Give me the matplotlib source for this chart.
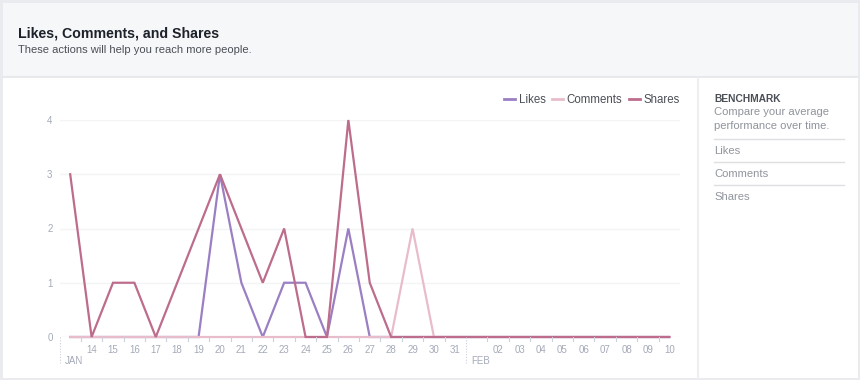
import matplotlib
matplotlib.use('Agg')
import matplotlib.pyplot as plt
from matplotlib.patches import Rectangle
from matplotlib.lines import Line2D
import pandas as pd

plt.rcParams['font.family'] = ['Liberation Sans', 'DejaVu Sans']

# days shown on the chart, Jan 13 .. Feb 10
dates = pd.date_range('2016-01-13', '2016-02-10')

likes = [0, 0, 0, 0, 0, 0, 0, 3, 1, 0, 1, 1, 0, 2, 0, 0, 0, 0, 0,
         0, 0, 0, 0, 0, 0, 0, 0, 0, 0]
comments = [0, 0, 0, 0, 0, 0, 0, 0, 0, 0, 0, 0, 0, 0, 0, 0, 2, 0, 0,
            0, 0, 0, 0, 0, 0, 0, 0, 0, 0]
shares = [3, 0, 1, 1, 0, 1, 2, 3, 2, 1, 2, 0, 0, 4, 1, 0, 0, 0, 0,
          0, 0, 0, 0, 0, 0, 0, 0, 0, 0]

series = [('Likes', likes, '#9b7fc3'),
          ('Comments', comments, '#e8bccb'),
          ('Shares', shares, '#bd6c8c')]

yticks = [0, 1, 2, 3, 4]
benchmark_items = ['Likes', 'Comments', 'Shares']

W, H = 860, 380


def fx(px):
    return px / W


def fy(py):
    return 1 - py / H


fig = plt.figure(figsize=(W / 100, H / 100), dpi=100)
fig.patch.set_facecolor('#e9ebee')

# card, header band, divider lines
fig.patches.append(Rectangle((fx(3), fy(378)), fx(855), 375 / H,
                             transform=fig.transFigure, facecolor='white',
                             edgecolor='none', zorder=-10))
fig.patches.append(Rectangle((fx(3), fy(77)), fx(855), 74 / H,
                             transform=fig.transFigure, facecolor='#f6f7f9',
                             edgecolor='none', zorder=-9))
fig.add_artist(Line2D([fx(3), fx(858)], [fy(77), fy(77)], color='#e5e6e9', lw=1.2))
fig.add_artist(Line2D([fx(698), fx(698)], [fy(78), fy(378)], color='#eceef1', lw=1.5))

fig.text(fx(18), fy(33), 'Likes, Comments, and Shares', fontsize=10.2,
         fontweight='bold', color='#1d2129', va='center', ha='left')
fig.text(fx(18), fy(50), 'These actions will help you reach more people.',
         fontsize=8.0, color='#4b4f56', va='center', ha='left')

# sidebar
fig.text(fx(714), fy(99), 'BENCHMARK', fontsize=7.4, fontweight='bold',
         color='#4b4f56', va='center')
fig.text(fx(714), fy(112), 'Compare your average', fontsize=8.1,
         color='#90949c', va='center')
fig.text(fx(714), fy(126), 'performance over time.', fontsize=8.1,
         color='#90949c', va='center')
line_y = [139, 162, 185]
for i, item in enumerate(benchmark_items):
    fig.add_artist(Line2D([fx(714), fx(844)], [fy(line_y[i]), fy(line_y[i])],
                          color='#dddfe2', lw=1))
    fig.text(fx(714), fy(line_y[i] + 12), item, fontsize=8.1,
             color='#90949c', va='center')

# chart
ax = fig.add_axes([fx(59.5), fy(337), fx(620.5), 217 / H])
ax.set_facecolor('none')
x = list(range(len(dates)))
for name, vals, col in series:
    ax.plot(x, vals, color=col, lw=1.6, label=name, clip_on=False,
            solid_joinstyle='miter')

ax.set_xlim(-0.5, len(dates) - 0.5)
ax.set_ylim(0, 4)
for s in ax.spines.values():
    s.set_visible(False)

ax.set_yticks(yticks)
ax.tick_params(axis='y', length=0, pad=5, labelsize=7, labelcolor='#a4aab8')
for v in yticks:
    ax.axhline(v, color='#f3f4f6', lw=1, zorder=0)

# day labels, skip the first day and the 1st of the month
lab_pos = [i for i, d in enumerate(dates) if i > 0 and d.day != 1]
ax.set_xticks(lab_pos)
ax.set_xticklabels([dates[i].strftime('%d') for i in lab_pos])
ax.tick_params(axis='x', length=0, pad=6, labelsize=7, labelcolor='#a4aab8')

# small ticks between days, dotted month markers
month_pos = [i - 0.5 for i, d in enumerate(dates) if i == 0 or d.day == 1]
trans = ax.get_xaxis_transform()
for i in range(len(dates) - 1):
    p = i + 0.5
    if p in month_pos:
        continue
    ax.plot([p, p], [0, -4 / 217], color='#ccd0d9', lw=0.8, transform=trans,
            clip_on=False)
for p in month_pos:
    ax.plot([p, p], [0, -26 / 217], color='#ccd0d9', lw=0.8, ls=(0, (1, 1.5)),
            transform=trans, clip_on=False)
    d = dates[int(p + 0.5)]
    ax.text(p + 0.25, -24 / 217, d.strftime('%b').upper(), transform=trans,
            fontsize=7, color='#a4aab8', va='center', ha='left')

leg = ax.legend(loc='center right', bbox_to_anchor=(1.0, 1 + 20 / 217), ncol=3,
                frameon=False, fontsize=8.3, handlelength=0.9, handletextpad=0.35,
                columnspacing=0.6, borderaxespad=0, borderpad=0)
for t in leg.get_texts():
    t.set_color('#4b4f56')
for h in leg.get_lines():
    h.set_linewidth(2)

fig.savefig('out.png', dpi=100, facecolor=fig.get_facecolor())
